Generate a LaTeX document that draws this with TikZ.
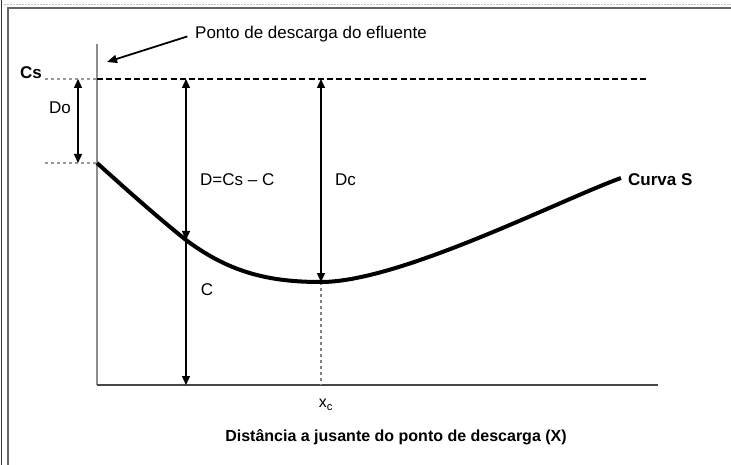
\documentclass[tikz,border=0pt]{standalone}
\usepackage{fontspec}
\setmainfont{Liberation Sans}
\usetikzlibrary{arrows.meta}
\begin{document}
\begin{tikzpicture}[x=1pt,y=-1pt,
  lbl/.style={font=\fontsize{17}{20}\selectfont, text=black, inner sep=0pt},
  blbl/.style={font=\fontsize{17}{20}\selectfont\bfseries, text=black, inner sep=0pt},
  tip/.tip={Triangle[length=9pt,width=8pt]},
  dimline/.style={line width=1.4pt, black, tip-tip},
  downline/.style={line width=1.4pt, black, -tip},
  ptr/.style={line width=1.8pt, black, -{Triangle[length=10pt,width=8pt]}},
  axisv/.style={line width=1.8pt, black!45},
  axish/.style={line width=2pt, black!72},
  refline/.style={line width=1.5pt, black, dash pattern=on 6pt off 3.2pt},
  lightref/.style={line width=1.3pt, black!40, dash pattern=on 3pt off 3pt},
  guide/.style={line width=1.2pt, black!50, dash pattern=on 3pt off 3pt},
  curve/.style={line width=4pt, black}
]
\useasboundingbox (0,0) rectangle (731,465);
% frame
\draw[line width=1.6pt, black!80] (1.5,0) -- (1.5,465);
\draw[line width=2pt, black!60] (8,465) -- (8,8) -- (731,8);
\draw[line width=0.8pt, black!25, dash pattern=on 2pt off 1pt] (4,4.5) -- (731,4.5);

% coordinates
\coordinate (axtop) at (97,44);
\coordinate (origin) at (97,385);
\coordinate (axend) at (658,385);
\coordinate (csL) at (45,79);
\coordinate (csA) at (97,79);
\coordinate (csR) at (648,79);
\coordinate (doL) at (45,163);
\coordinate (start) at (97,163);
\coordinate (doTop) at (78,79);
\coordinate (doBot) at (78,163);
\coordinate (p1) at (186,240);
\coordinate (pmin) at (321,282);
\coordinate (pend) at (621,178);
\coordinate (dTop) at (186,79);
\coordinate (cBot) at (186,385);
\coordinate (dcTop) at (321,79);
\coordinate (xcBot) at (321,385);
\coordinate (disch) at (107,62);

% axes
\draw[axisv] (axtop) -- (origin);
\draw[axish] (origin) -- (axend);

% reference lines
\draw[lightref] (csL) -- (csA);
\draw[refline] (csA) -- (csR);
\draw[lightref] (doL) -- (start);
\draw[guide] (pmin) -- (xcBot);

% curve
\draw[curve] (start) .. controls (127,190) and (156,216) .. (p1)
  .. controls (230,273) and (270,282) .. (pmin)
  .. controls (400,282) and (560,200) .. (pend);

% dimension arrows
\draw[dimline] (doTop) -- (doBot);
\draw[dimline] (dTop) -- (p1);
\draw[downline] (p1) -- (cBot);
\draw[dimline] (dcTop) -- (pmin);

% labels
\node[lbl, anchor=west] (ponto) at (195,34) {Ponto de descarga do efluente};
\draw[ptr, shorten <=8pt] (ponto.west) -- (disch);
\node[blbl] (cs) at (31,73) {Cs};
\node[lbl] (do) at (60,108) {Do};
\node[lbl, anchor=west] (dlab) at (200,180) {D=Cs – C};
\node[lbl, anchor=west] (dclab) at (335,180) {Dc};
\node[lbl] (clab) at (207,290) {C};
\node[blbl, anchor=west] (curva) at (628,180) {Curva S};
\node[lbl, font=\fontsize{16}{19}\selectfont] (xc) at (326,405) {x\textsubscript{c}};
\node[blbl, font=\fontsize{16}{19}\selectfont\bfseries] (xlab) at (396,437) {Distância a jusante do ponto de descarga (X)};
\end{tikzpicture}
\end{document}
